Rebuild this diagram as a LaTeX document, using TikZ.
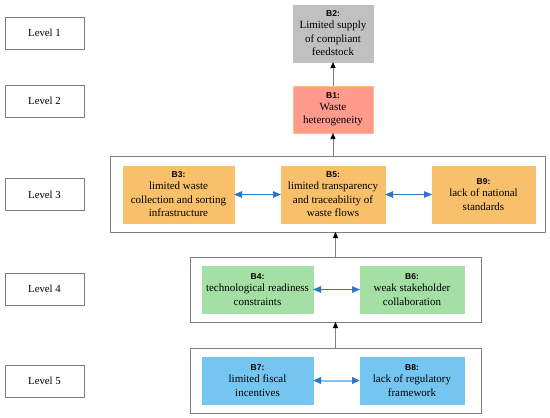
\documentclass[tikz,border=0pt]{standalone}
\usepackage{fontspec}
\setmainfont{Liberation Serif}
\newfontfamily\labfont{Liberation Sans}
\usetikzlibrary{arrows.meta}
\definecolor{bgray}{HTML}{C0C0C0}
\definecolor{bsalmon}{HTML}{FF9A8C}
\definecolor{bsalmonline}{HTML}{FFBE86}
\definecolor{borange}{HTML}{F8C06A}
\definecolor{bgreen}{HTML}{A4DFA4}
\definecolor{bblue}{HTML}{74C5EF}
\definecolor{frame}{HTML}{7F7F7F}
\definecolor{darrow}{HTML}{2A78C6}
\definecolor{larrow}{HTML}{8CC2EA}
\newcommand{\blab}[1]{{\labfont\bfseries\fontsize{8.5}{12}\selectfont #1}}
\tikzset{
  every node/.style={inner sep=0pt, outer sep=0pt},
  levelbox/.style={draw=frame, line width=0.8pt, minimum width=79pt, minimum height=32pt, font=\fontsize{10.8}{13}\selectfont},
  groupbox/.style={draw=frame, line width=1pt},
  bbox/.style={align=center, font=\fontsize{11}{13.5}\selectfont, line width=0.6pt},
  upar/.style={draw=frame, line width=1pt, -{Triangle[length=6pt,width=5pt,color=black]}},
  biar/.style={draw=darrow, line width=0.8pt, {Triangle[length=8pt,width=6.5pt]}-{Triangle[length=8pt,width=6.5pt]}},
  biarl/.style={draw=larrow, line width=2pt, {Triangle[length=8pt,width=6.5pt,color=darrow]}-{Triangle[length=8pt,width=6.5pt,color=darrow]}}
}
\begin{document}
\begin{tikzpicture}[x=1pt,y=-1pt]
\useasboundingbox (0,0) rectangle (550,418);
% level labels
\node[levelbox] (L1) at (44.5,33) {Level 1};
\node[levelbox] (L2) at (44.5,101) {Level 2};
\node[levelbox] (L3) at (44.5,194.5) {Level 3};
\node[levelbox] (L4) at (44.5,289) {Level 4};
\node[levelbox] (L5) at (44.5,381) {Level 5};
% group frames
\node[groupbox, minimum width=435pt, minimum height=76pt] (G3) at (327.5,194) {};
\node[groupbox, minimum width=291pt, minimum height=65pt] (G4) at (335.5,289.5) {};
\node[groupbox, minimum width=291pt, minimum height=65pt] (G5) at (335.5,380.5) {};
% barrier boxes
\node[bbox, fill=bgray, draw=bgray, minimum width=80pt, minimum height=57pt] (B2) at (333,33.5)
  {\blab{B2:}\\[-1.5pt]Limited supply\\of compliant\\feedstock};
\node[bbox, fill=bsalmon, draw=bsalmonline, minimum width=80pt, minimum height=47pt] (B1) at (333,109.5)
  {\blab{B1:}\\[-1.5pt]Waste\\heterogeneity};
\node[bbox, fill=borange, draw=borange, minimum width=111pt, minimum height=57pt] (B3) at (178.5,194.5)
  {\blab{B3:}\\[-1.5pt]limited waste\\collection and sorting\\infrastructure};
\node[bbox, fill=borange, draw=borange, minimum width=104pt, minimum height=57pt] (B5) at (333,194.5)
  {\blab{B5:}\\[-1.5pt]limited transparency\\and traceability of\\waste flows};
\node[bbox, fill=borange, draw=borange, minimum width=103pt, minimum height=57pt] (B9) at (483.5,194.5)
  {\blab{B9:}\\[-1.5pt]lack of national\\standards};
\node[bbox, fill=bgreen, draw=bgreen, minimum width=111pt, minimum height=47pt] (B4) at (257.5,289.5)
  {\blab{B4:}\\[-1.5pt]technological readiness\\constraints};
\node[bbox, fill=bgreen, draw=bgreen, minimum width=104pt, minimum height=47pt] (B6) at (412,289.5)
  {\blab{B6:}\\[-1.5pt]weak stakeholder\\collaboration};
\node[bbox, fill=bblue, draw=bblue, minimum width=111pt, minimum height=47pt] (B7) at (257.5,380.5)
  {\blab{B7:}\\[-1.5pt]limited fiscal\\incentives};
\node[bbox, fill=bblue, draw=bblue, minimum width=104pt, minimum height=47pt] (B8) at (412,380.5)
  {\blab{B8:}\\[-1.5pt]lack of regulatory\\framework};
% vertical arrows
\draw[upar] (B1.north) -- (B2.south);
\draw[upar] (B1.south |- G3.north) -- (B1.south);
\draw[upar] (G4.north) -- (G4.north |- G3.south);
\draw[upar] (G5.north) -- (G4.south);
% horizontal double arrows
\draw[biar] (B3.east) -- (B5.west);
\draw[biar] (B5.east) -- (B9.west);
\draw[biar] (B4.east) -- (B6.west);
\draw[biarl] (B7.east) -- (B8.west);
\end{tikzpicture}
\end{document}
